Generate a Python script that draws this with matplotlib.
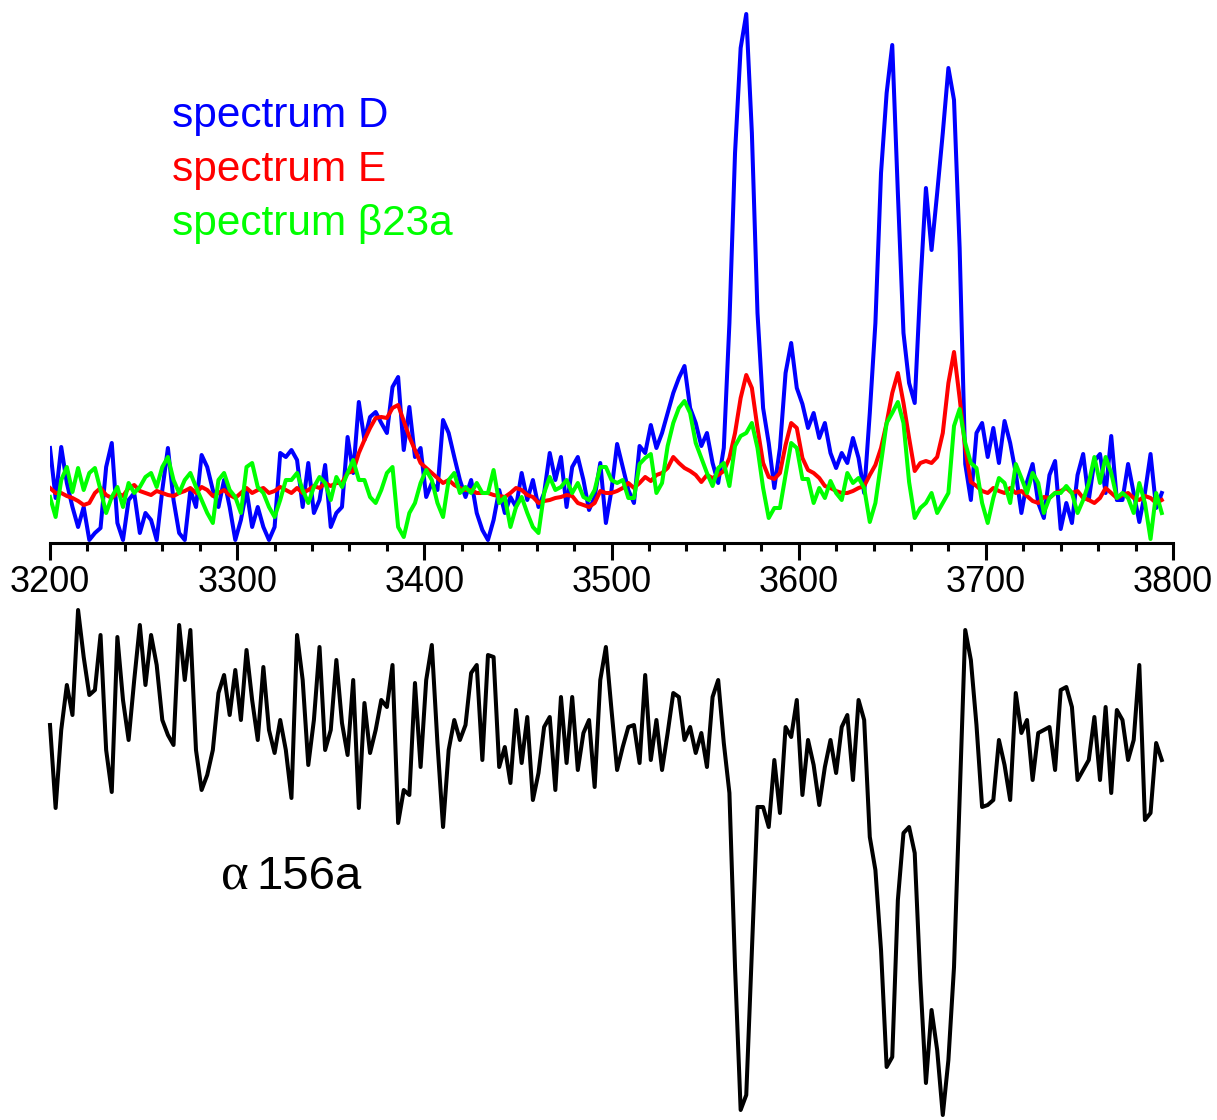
import numpy as np
import matplotlib
matplotlib.use("Agg")
import matplotlib.pyplot as plt

# Wavenumber grid (cm^-1) shared by all traces
wavenumber = np.arange(3200, 3797, 3)

spectrum_D = [
    0.95, 0.45, 0.96, 0.6, 0.36, 0.16, 0.36, 0.03, 0.1, 0.15,
    0.76, 1.0, 0.2, 0.03, 0.43, 0.5, 0.1, 0.3, 0.23, 0.03,
    0.53, 0.95, 0.43, 0.1, 0.03, 0.53, 0.36, 0.88, 0.76, 0.53,
    0.36, 0.63, 0.36, 0.03, 0.23, 0.53, 0.16, 0.36, 0.16, 0.03,
    0.16, 0.9, 0.86, 0.93, 0.83, 0.36, 0.8, 0.3, 0.43, 0.78,
    0.16, 0.3, 0.36, 1.06, 0.7, 1.41, 1.03, 1.26, 1.31, 1.2,
    1.1, 1.56, 1.66, 0.93, 1.36, 0.86, 0.95, 0.46, 0.6, 0.53,
    1.23, 1.1, 0.86, 0.63, 0.46, 0.63, 0.3, 0.13, 0.03, 0.23,
    0.53, 0.3, 0.46, 0.36, 0.7, 0.43, 0.63, 0.36, 0.5, 0.9,
    0.63, 0.86, 0.36, 0.76, 0.86, 0.63, 0.33, 0.46, 0.8, 0.2,
    0.53, 0.99, 0.76, 0.53, 0.4, 0.97, 0.9, 1.18, 0.95, 1.1,
    1.3, 1.5, 1.65, 1.77, 1.35, 1.2, 0.97, 1.1, 0.8, 0.6,
    0.95, 2.2, 3.9, 4.95, 5.29, 4.1, 2.3, 1.35, 1.0, 0.55,
    0.95, 1.7, 2.0, 1.55, 1.39, 1.15, 1.3, 1.05, 1.2, 0.9,
    0.75, 0.9, 0.8, 1.05, 0.85, 0.5, 1.3, 2.2, 3.7, 4.5,
    4.98, 3.5, 2.1, 1.6, 1.4, 2.57, 3.55, 2.93, 3.5, 4.1,
    4.75, 4.43, 2.95, 0.79, 0.43, 1.1, 1.2, 0.86, 1.15, 0.8,
    1.22, 1.0, 0.7, 0.3, 0.61, 0.79, 0.4, 0.25, 0.68, 0.82,
    0.14, 0.4, 0.2, 0.68, 0.89, 0.43, 0.82, 0.89, 0.5, 1.07,
    0.43, 0.43, 0.79, 0.5, 0.21, 0.5, 0.89, 0.35, 0.5,
]

spectrum_E = [
    0.55, 0.5, 0.5, 0.47, 0.45, 0.42, 0.38, 0.4, 0.5, 0.55,
    0.48, 0.45, 0.5, 0.47, 0.55, 0.58, 0.52, 0.5, 0.48, 0.52,
    0.5, 0.48, 0.47, 0.5, 0.52, 0.55, 0.5, 0.56, 0.53, 0.47,
    0.5, 0.53, 0.48, 0.45, 0.5, 0.55, 0.5, 0.53, 0.55, 0.5,
    0.52, 0.56, 0.53, 0.5, 0.55, 0.5, 0.53, 0.57, 0.55, 0.6,
    0.57, 0.6, 0.6, 0.7, 0.72, 0.9, 1.03, 1.15, 1.25, 1.26,
    1.25, 1.35, 1.38, 1.22, 1.06, 0.93, 0.8, 0.75, 0.7, 0.65,
    0.6, 0.63, 0.58, 0.55, 0.53, 0.53, 0.5, 0.5, 0.5, 0.48,
    0.47, 0.46, 0.5, 0.55, 0.53, 0.48, 0.46, 0.4, 0.42, 0.43,
    0.45, 0.46, 0.48, 0.47, 0.4, 0.38, 0.36, 0.4, 0.52, 0.5,
    0.5, 0.52, 0.55, 0.6, 0.55, 0.6, 0.66, 0.62, 0.68, 0.7,
    0.75, 0.86, 0.8, 0.75, 0.72, 0.68, 0.61, 0.68, 0.65, 0.68,
    0.72, 0.85, 1.1, 1.45, 1.68, 1.55, 1.15, 0.8, 0.66, 0.64,
    0.7, 0.98, 1.2, 1.15, 0.85, 0.73, 0.7, 0.65, 0.57, 0.55,
    0.52, 0.5, 0.5, 0.52, 0.55, 0.57, 0.68, 0.78, 0.95, 1.2,
    1.5, 1.7, 1.4, 1.05, 0.72, 0.8, 0.82, 0.8, 0.86, 1.1,
    1.6, 1.91, 1.45, 0.95, 0.61, 0.57, 0.52, 0.5, 0.55, 0.52,
    0.5, 0.55, 0.5, 0.52, 0.47, 0.42, 0.4, 0.46, 0.45, 0.5,
    0.52, 0.55, 0.5, 0.52, 0.45, 0.43, 0.4, 0.45, 0.55, 0.5,
    0.45, 0.48, 0.5, 0.45, 0.43, 0.47, 0.45, 0.4, 0.43,
]

spectrum_b23a = [
    0.46, 0.26, 0.63, 0.76, 0.51, 0.75, 0.53, 0.7, 0.75, 0.53,
    0.3, 0.46, 0.56, 0.36, 0.6, 0.5, 0.56, 0.66, 0.7, 0.56,
    0.76, 0.86, 0.63, 0.5, 0.63, 0.7, 0.56, 0.43, 0.3, 0.2,
    0.63, 0.7, 0.53, 0.46, 0.3, 0.76, 0.8, 0.56, 0.5, 0.36,
    0.26, 0.43, 0.63, 0.63, 0.7, 0.53, 0.4, 0.56, 0.66, 0.6,
    0.43, 0.66, 0.56, 0.7, 0.83, 0.63, 0.63, 0.46, 0.4, 0.53,
    0.7, 0.76, 0.16, 0.06, 0.3, 0.4, 0.6, 0.73, 0.63, 0.4,
    0.26, 0.63, 0.7, 0.5, 0.56, 0.5, 0.6, 0.5, 0.5, 0.73,
    0.4, 0.46, 0.16, 0.36, 0.46, 0.3, 0.16, 0.1, 0.5, 0.66,
    0.53, 0.56, 0.63, 0.5, 0.6, 0.46, 0.43, 0.53, 0.76, 0.76,
    0.63, 0.6, 0.63, 0.45, 0.45, 0.79, 0.85, 0.89, 0.5, 0.6,
    0.97, 1.2, 1.35, 1.42, 1.3, 1.0, 0.85, 0.7, 0.57, 0.75,
    0.8, 0.57, 0.97, 1.07, 1.1, 1.2, 0.95, 0.55, 0.25, 0.35,
    0.35, 0.68, 1.0, 0.95, 0.64, 0.64, 0.4, 0.55, 0.45, 0.62,
    0.5, 0.43, 0.7, 0.6, 0.65, 0.55, 0.21, 0.4, 0.8, 1.2,
    1.3, 1.41, 1.2, 0.61, 0.25, 0.35, 0.4, 0.5, 0.3, 0.4,
    0.5, 1.17, 1.34, 1.0, 0.8, 0.75, 0.4, 0.2, 0.45, 0.65,
    0.6, 0.4, 0.79, 0.65, 0.5, 0.7, 0.6, 0.3, 0.45, 0.5,
    0.5, 0.57, 0.5, 0.3, 0.43, 0.6, 0.86, 0.6, 0.86, 0.7,
    0.45, 0.5, 0.45, 0.3, 0.6, 0.4, 0.04, 0.5, 0.3,
]

difference_a156a = [
    -0.05, -0.88, -0.1, 0.35, 0.05, 1.1, 0.63, 0.25, 0.3, 0.85,
    -0.3, -0.72, 0.83, 0.2, -0.2, 0.4, 0.95, 0.35, 0.85, 0.55,
    0.0, -0.15, -0.25, 0.95, 0.4, 0.9, -0.3, -0.7, -0.55, -0.3,
    0.27, 0.45, 0.05, 0.5, 0.0, 0.7, 0.2, -0.2, 0.53, -0.1,
    -0.33, 0.0, -0.3, -0.78, 0.85, 0.4, -0.45, 0.0, 0.73, -0.3,
    -0.1, 0.6, -0.03, -0.35, 0.4, -0.88, 0.17, -0.33, -0.1, 0.2,
    0.13, 0.55, -1.03, -0.7, -0.75, 0.37, -0.47, 0.4, 0.75, -0.23,
    -1.07, -0.3, 0.0, -0.2, -0.05, 0.47, 0.55, -0.4, 0.65, 0.63,
    -0.47, -0.27, -0.63, 0.1, -0.43, 0.03, -0.8, -0.53, -0.07, 0.03,
    -0.7, 0.23, -0.43, 0.23, -0.5, -0.13, 0.0, -0.67, 0.4, 0.73,
    0.1, -0.5, -0.27, -0.07, -0.05, -0.43, 0.45, -0.4, 0.0, -0.5,
    -0.13, 0.27, 0.23, -0.2, -0.07, -0.33, -0.13, -0.47, 0.23, 0.4,
    -0.23, -0.73, -2.47, -3.9, -3.75, -2.3, -0.87, -0.87, -1.07, -0.4,
    -0.93, -0.07, -0.17, 0.2, -0.75, -0.2, -0.45, -0.85, -0.47, -0.2,
    -0.53, -0.07, 0.05, -0.6, 0.2, 0.0, -1.17, -1.5, -2.3, -3.47,
    -3.37, -1.8, -1.13, -1.07, -1.33, -2.6, -3.63, -2.9, -3.3, -3.95,
    -3.4, -2.47, -0.8, 0.9, 0.6, -0.05, -0.87, -0.85, -0.8, -0.2,
    -0.45, -0.8, 0.27, -0.13, 0.0, -0.6, -0.13, -0.1, -0.07, -0.5,
    0.3, 0.33, 0.13, -0.6, -0.5, -0.4, 0.03, -0.6, 0.13, -0.73,
    0.1, 0.0, -0.4, -0.2, 0.55, -1.0, -0.93, -0.23, -0.4,
]

trace_labels = ["spectrum D", "spectrum E", "spectrum \u03b223a"]
trace_colors = ["#0000ff", "#ff0000", "#00ff00"]
x_ticks = [3200, 3300, 3400, 3500, 3600, 3700, 3800]

W, H = 1217, 1120
fig = plt.figure(figsize=(W / 100, H / 100), dpi=100)
sans = ["Liberation Sans", "DejaVu Sans"]
LW = 2.9

# Upper panel: the three absorbance spectra over a single bottom axis
ax = fig.add_axes([50 / W, 1 - 543 / H, 1123 / W, 535 / H])
series = [spectrum_D, spectrum_E, spectrum_b23a]
for vals, col in zip(series, trace_colors):
    ax.plot(wavenumber, vals, color=col, lw=LW)
ax.set_xlim(3200, 3800)
ax.set_ylim(0, 5.35)
for side in ("left", "right", "top"):
    ax.spines[side].set_visible(False)
ax.spines["bottom"].set_linewidth(2.2)
ax.set_yticks([])
ax.set_xticks(x_ticks)
ax.set_xticks(np.arange(3200, 3801, 20), minor=True)
ax.tick_params(axis="x", which="major", direction="out", length=12,
               width=2.2, pad=4, labelsize=26)
ax.tick_params(axis="x", which="minor", direction="out", length=6, width=2.2)
for lbl in ax.get_xticklabels():
    lbl.set_fontfamily(sans)
ax.patch.set_alpha(0)

for i, (txt, col) in enumerate(zip(trace_labels, trace_colors)):
    fig.text(172 / W, 1 - (116 + 54 * i) / H, txt, color=col, fontsize=30.5,
             family=sans, va="center", ha="left")

# Lower panel: difference spectrum, drawn without axes
bx = fig.add_axes([50 / W, 0, 1123 / W, 520 / H])
bx.plot(wavenumber, difference_a156a, color="black", lw=LW, clip_on=False)
bx.set_xlim(3200, 3800)
bx.set_ylim(-4.0, 1.2)
bx.axis("off")

# Panel label: Greek letter in a serif face, digits in sans, shared baseline
fig.text(221 / W, 1 - 889 / H, "\u03b1", fontsize=38,
         family=["Liberation Serif", "DejaVu Serif"], va="baseline", ha="left")
fig.text(256 / W, 1 - 889 / H, "156a", fontsize=34, family=sans,
         va="baseline", ha="left")

fig.savefig("out.png", dpi=100, facecolor="white")
